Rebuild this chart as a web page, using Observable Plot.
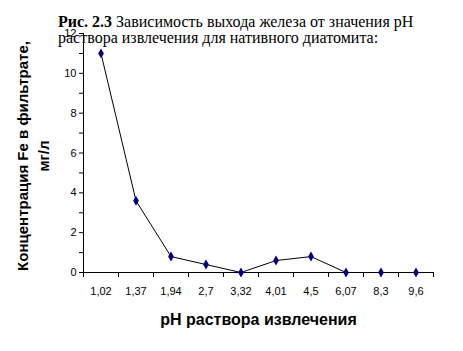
<!DOCTYPE html>
<html>
<head>
<meta charset="utf-8">
<script src="https://cdn.jsdelivr.net/npm/d3@7"></script>
<script src="https://cdn.jsdelivr.net/npm/@observablehq/plot@0.6"></script>
<style>
  html, body { margin: 0; padding: 0; background: #fff; }
  #wrap { position: relative; width: 463px; height: 351px; overflow: hidden; }
  #title { position: absolute; left: 58px; top: 14px; font-family: "Liberation Serif", "Times New Roman", serif; font-size: 16px; line-height: 16px; color: #000; white-space: nowrap; }
  #title .l1 { display: block; width: 355px; text-align: justify; text-align-last: justify; }
  #title .l2 { display: block; }
  #title b { font-weight: bold; }
</style>
</head>
<body>
<div id="wrap"></div>
<script>
const categories = ["1,02", "1,37", "1,94", "2,7", "3,32", "4,01", "4,5", "6,07", "8,3", "9,6"];
const values = [11, 3.6, 0.8, 0.4, 0, 0.6, 0.8, 0, 0, 0];
const yTicks = [0, 1, 2, 3, 4, 5, 6, 7, 8, 9, 10, 11, 12];
const titleBold = "Рис. 2.3";
const titleText = " Зависимость выхода железа от значения pH";
const titleLine2 = "раствора извлечения для нативного диатомита:";
const yLabel = "Концентрация Fe в фильтрате,\nмг/л";
const xLabel = "pH раствора извлечения";

const data = categories.map((c, i) => ({i, c, v: values[i]}));
const n = categories.length;
const boundaries = d3.range(n + 1).map(k => k - 0.5);

const chart = Plot.plot({
  width: 463,
  height: 351,
  marginLeft: 83,
  marginRight: 30,
  marginTop: 33,
  marginBottom: 79,
  style: {fontFamily: "Arial, 'Liberation Sans', sans-serif", fontSize: "11px", color: "#000", background: "#fff"},
  x: {type: "linear", domain: [-0.5, n - 0.5]},
  y: {domain: [0, 12]},
  marks: [
    Plot.axisY({ticks: yTicks, tickSize: 4, tickPadding: 3, tickFormat: d => d % 2 ? "" : String(d), label: null, fontSize: 11}),
    Plot.axisX({ticks: boundaries, tickSize: 5, tickFormat: () => "", label: null}),
    Plot.axisX({ticks: d3.range(n), tickSize: 0, tickPadding: 15, tickFormat: i => categories[i], label: null, fontSize: 11}),
    Plot.ruleX([-0.5], {stroke: "#000"}),
    Plot.ruleY([0], {stroke: "#000"}),
    Plot.line(data, {x: "i", y: "v", stroke: "#000", strokeWidth: 1}),
    Plot.dot(data, {x: "i", y: "v", symbol: "diamond", r: 3, fill: "#000080", stroke: "none"}),
    Plot.text([yLabel], {frameAnchor: "left", text: d => d, rotate: -90, dx: -52, dy: 3, textAnchor: "middle", lineHeight: 1.45, fontSize: 15, fontWeight: "bold", fill: "#000", lineAnchor: "middle"}),
    Plot.text([xLabel], {frameAnchor: "bottom", text: d => d, dy: 52, fontSize: 16, fontWeight: "bold", fill: "#000", lineAnchor: "bottom"})
  ]
});

const wrap = document.getElementById("wrap");
wrap.appendChild(chart);
const t = document.createElement("div");
t.id = "title";
const l1 = document.createElement("span");
l1.className = "l1";
const b = document.createElement("b");
b.textContent = titleBold;
l1.appendChild(b);
l1.appendChild(document.createTextNode(titleText));
const l2 = document.createElement("span");
l2.className = "l2";
l2.textContent = titleLine2;
t.appendChild(l1);
t.appendChild(l2);
wrap.appendChild(t);
</script>
</body>
</html>
